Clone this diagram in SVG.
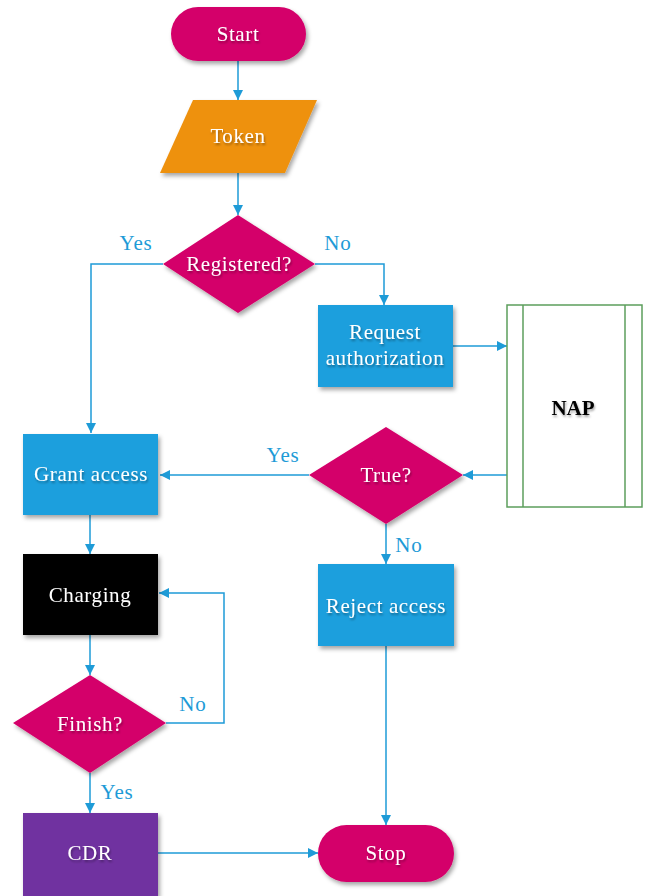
<svg xmlns="http://www.w3.org/2000/svg" width="650" height="896" viewBox="0 0 650 896">
<defs>
<filter id="sh" x="-20%" y="-20%" width="140%" height="150%">
<feDropShadow dx="2" dy="3" stdDeviation="2" flood-color="#000" flood-opacity="0.35"/>
</filter>
<filter id="tsh" x="-20%" y="-20%" width="140%" height="160%">
<feDropShadow dx="1" dy="2" stdDeviation="1.2" flood-color="#000" flood-opacity="0.35"/>
</filter>
<marker id="arr" viewBox="0 0 10 10" refX="10" refY="5" markerWidth="10" markerHeight="10" markerUnits="userSpaceOnUse" orient="auto">
<path d="M0,0 L10,5 L0,10 z" fill="#1e9bd7"/>
</marker>
<style>
.mag{fill:#d4006a;filter:url(#sh)}
.blue{fill:#1e9fdd;filter:url(#sh)}
.t{font-family:"Liberation Serif","Times New Roman",serif;font-size:21px;letter-spacing:0.6px;fill:#fff;text-anchor:middle;dominant-baseline:central;filter:url(#tsh)}
.lbl{font-family:"Liberation Serif","Times New Roman",serif;font-size:21px;letter-spacing:0.8px;fill:#1e9bd7;text-anchor:middle;dominant-baseline:central}
.c{fill:none;stroke:#1e9bd7;stroke-width:1.5;marker-end:url(#arr)}
</style>
</defs>
<rect width="650" height="896" fill="#fff"/>
<g id="connectors">
<path class="c" d="M238,61 V100"/>
<path class="c" d="M238,173 V215"/>
<path class="c" d="M163,264 H91 V433"/>
<path class="c" d="M315,264 H384 V305"/>
<path class="c" d="M453,346 H507"/>
<path class="c" d="M507,475 H463"/>
<path class="c" d="M309,475 H160"/>
<path class="c" d="M386,524 V564"/>
<path class="c" d="M90,515 V554"/>
<path class="c" d="M90,635 V675"/>
<path class="c" d="M166,723 H224 V593 H159"/>
<path class="c" d="M90,773 V813"/>
<path class="c" d="M158,853 H318"/>
<path class="c" d="M386,646 V825"/>
<text class="lbl" x="136" y="243">Yes</text>
<text class="lbl" x="338" y="243">No</text>
<text class="lbl" x="283" y="455">Yes</text>
<text class="lbl" x="409" y="545">No</text>
<text class="lbl" x="193" y="704">No</text>
<text class="lbl" x="117" y="792">Yes</text>
</g>
<g id="start">
<rect class="mag" x="171" y="7" width="135" height="54" rx="27"/>
<text class="t" x="238" y="34">Start</text>
</g>
<g id="token">
<polygon points="193,100 317,100 285,173 160,173" fill="#ee9110" filter="url(#sh)"/>
<text class="t" x="238" y="136">Token</text>
</g>
<g id="registered">
<polygon class="mag" points="238,215 315,264 238,313 163,264"/>
<text class="t" x="239" y="264">Registered?</text>
</g>
<g id="request">
<rect class="blue" x="318" y="305" width="135" height="82"/>
<text class="t" x="385" y="332">Request</text>
<text class="t" x="385" y="358">authorization</text>
</g>
<g id="nap">
<rect x="507" y="305" width="135" height="202" fill="#fff" stroke="#5c9e5c" stroke-width="1.5"/>
<line x1="523" y1="305" x2="523" y2="507" stroke="#5c9e5c" stroke-width="1.5"/>
<line x1="625" y1="305" x2="625" y2="507" stroke="#5c9e5c" stroke-width="1.5"/>
<text x="573" y="408" font-family="Liberation Serif, Times New Roman, serif" font-size="21" font-weight="bold" fill="#000" text-anchor="middle" dominant-baseline="central" filter="url(#tsh)">NAP</text>
</g>
<g id="true">
<polygon class="mag" points="386,427 463,475 386,524 309,475"/>
<text class="t" x="386" y="475">True?</text>
</g>
<g id="grant">
<rect class="blue" x="23" y="434" width="135" height="81"/>
<text class="t" x="91" y="474">Grant access</text>
</g>
<g id="reject">
<rect class="blue" x="318" y="564" width="136" height="82"/>
<text class="t" x="386" y="606">Reject access</text>
</g>
<g id="charging">
<rect x="23" y="554" width="135" height="81" fill="#000" filter="url(#sh)"/>
<text class="t" x="90" y="595">Charging</text>
</g>
<g id="finish">
<polygon class="mag" points="90,675 166,723 90,773 13,723"/>
<text class="t" x="90" y="724">Finish?</text>
</g>
<g id="cdr">
<rect x="23" y="813" width="135" height="83" fill="#7030a0" filter="url(#sh)"/>
<text class="t" x="90" y="853">CDR</text>
</g>
<g id="stop">
<rect class="mag" x="318" y="825" width="136" height="57" rx="28.5"/>
<text class="t" x="386" y="853">Stop</text>
</g>
</svg>
